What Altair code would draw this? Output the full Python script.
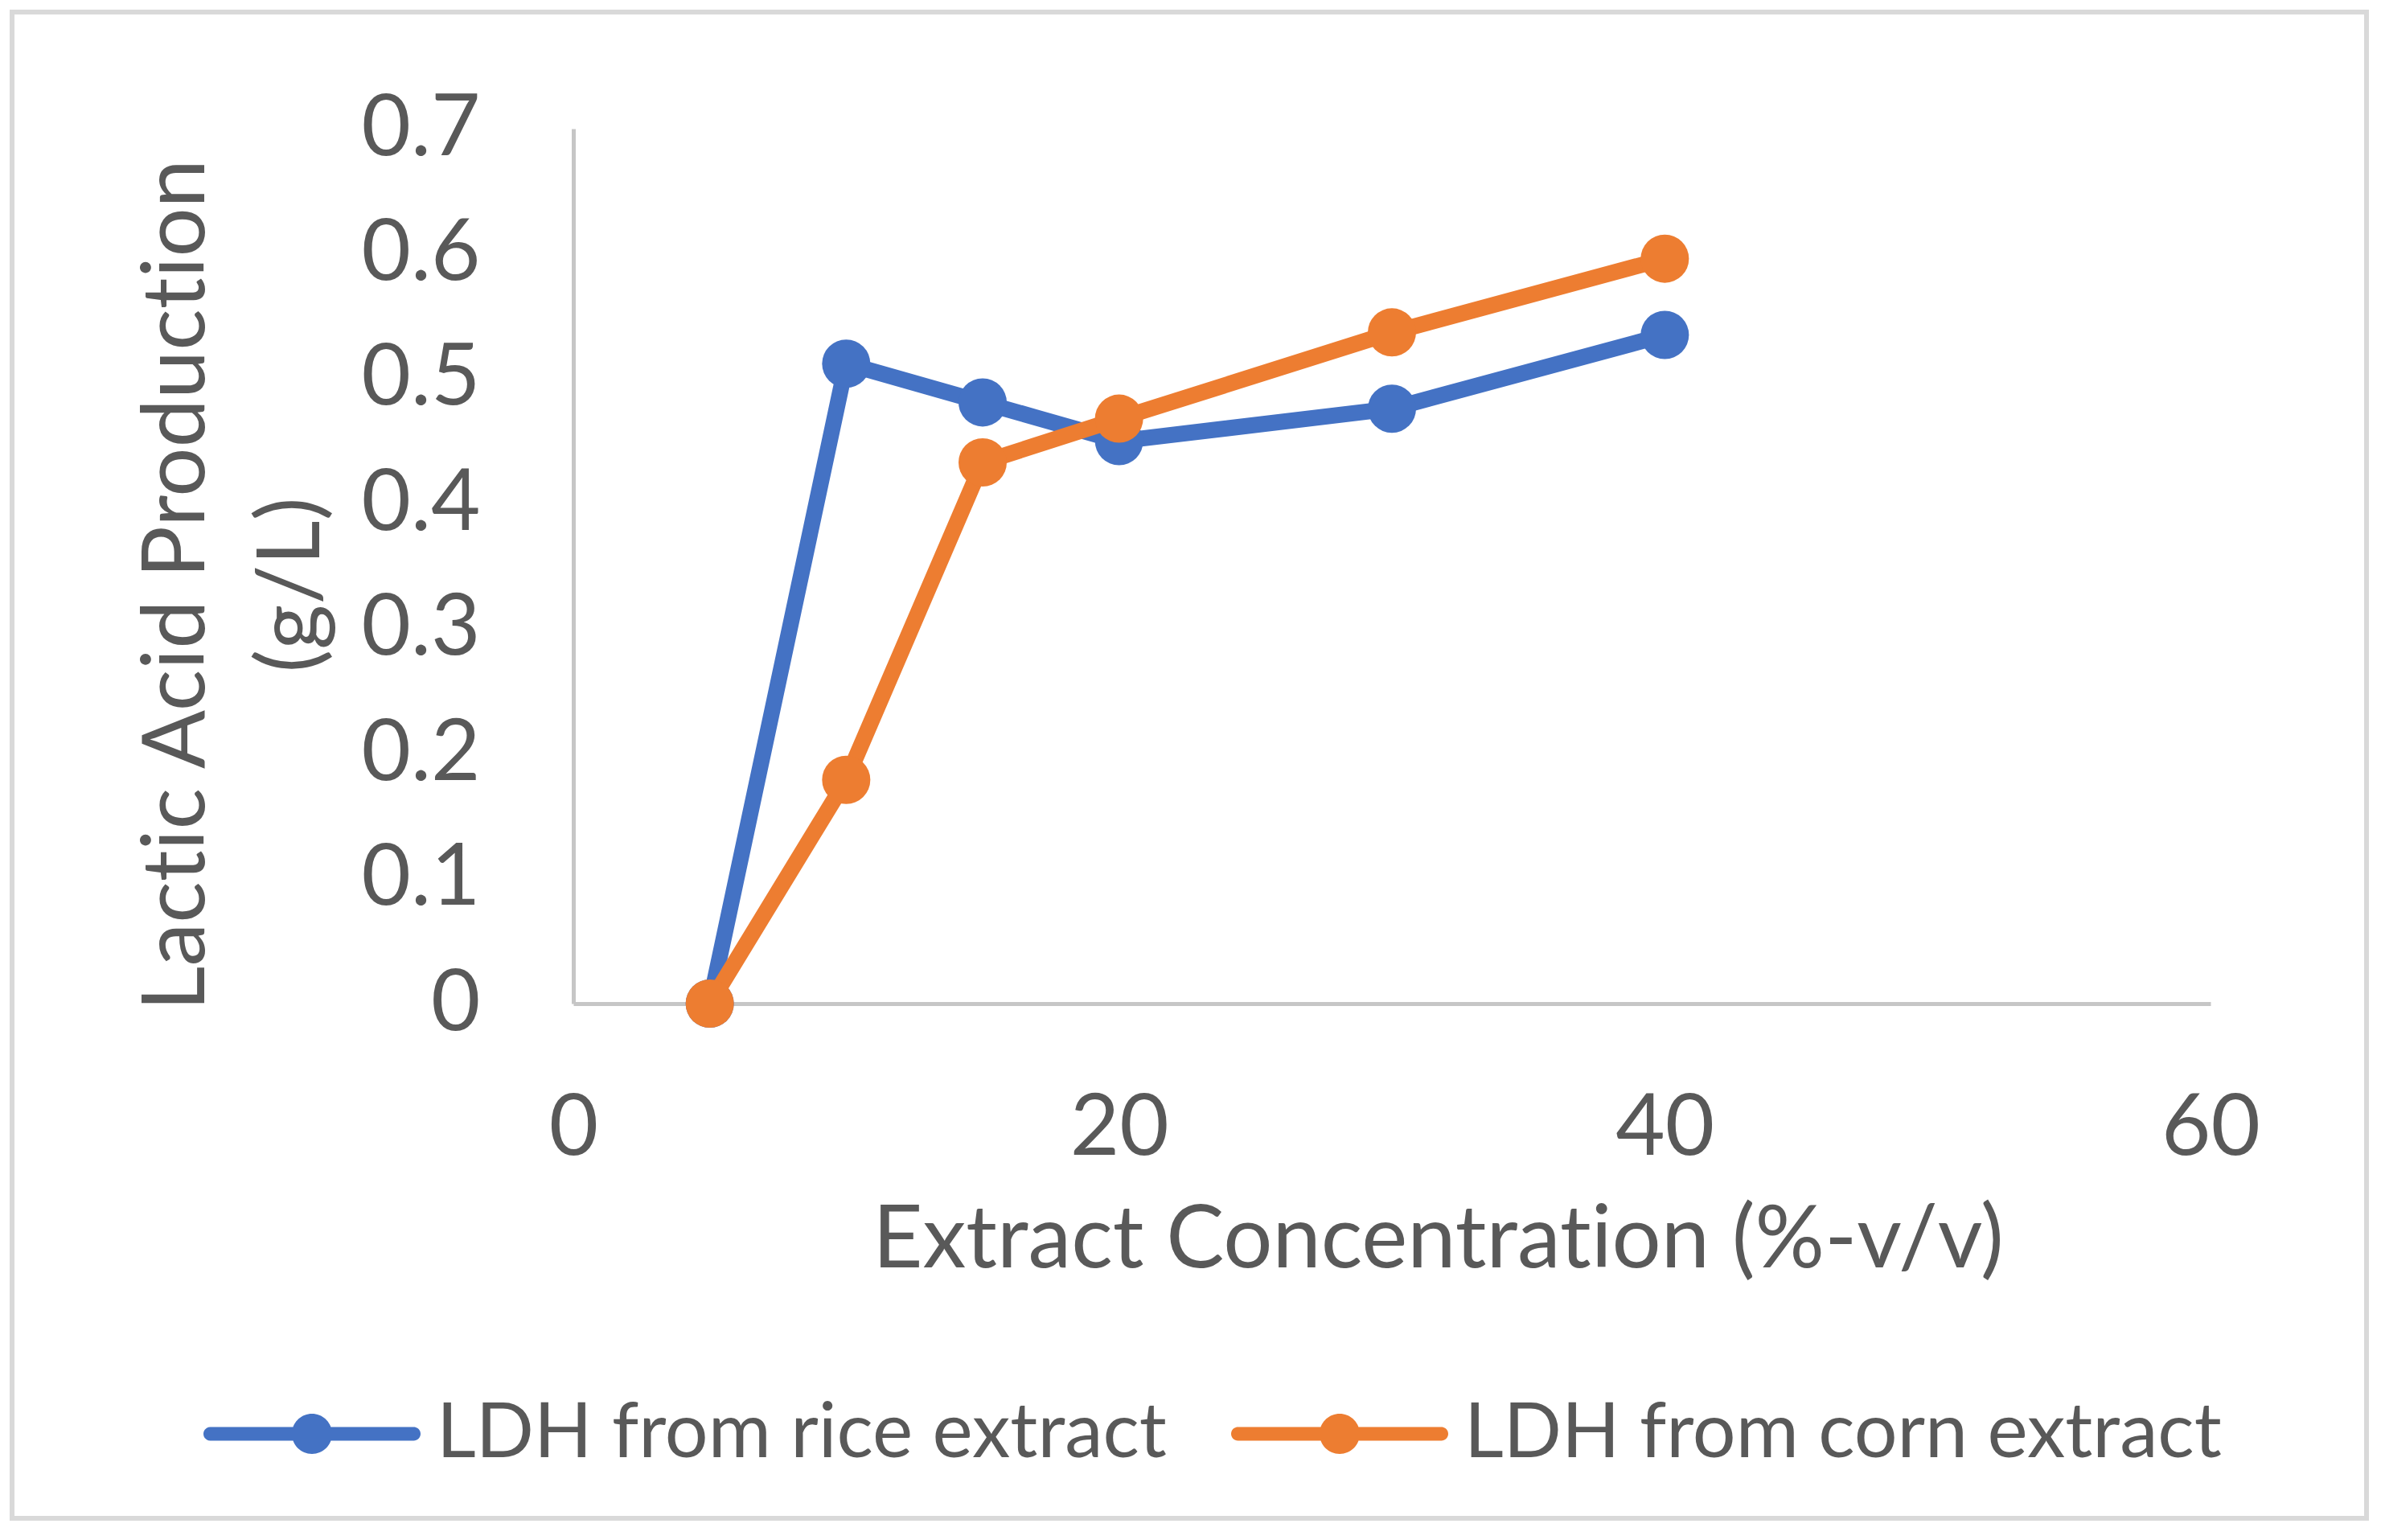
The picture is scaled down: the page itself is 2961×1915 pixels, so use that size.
import altair as alt
import pandas as pd

# ---- data ----
concentration = [5, 10, 15, 20, 30, 40]
rice = [0.0, 0.512, 0.481, 0.450, 0.476, 0.535]
corn = [0.0, 0.179, 0.433, 0.468, 0.537, 0.596]
series_names = ["LDH from rice extract", "LDH from corn extract"]
series_colors = ["#4472C4", "#ED7D31"]
x_ticks = [0, 20, 40, 60]
y_ticks = [0, 0.1, 0.2, 0.3, 0.4, 0.5, 0.6, 0.7]
x_title = "Extract Concentration (%-v/v)"
y_title = ["Lactic Acid Production", "(g/L)"]

rows = []
for name, vals in zip(series_names, [rice, corn]):
    for c, v in zip(concentration, vals):
        rows.append({"conc": c, "value": v, "series": name})
df = pd.DataFrame(rows)

FONT = "Lato"
TXT = "#595959"


def no_lig(s):
    # keep Lato from drawing its "ti" ligature
    return s.replace("ti", "t\u200ci")


W, H = 2036, 1088
PAD = {"left": 713, "top": 160, "right": 2961 - 713 - W, "bottom": 1915 - 160 - H}

legend_path = (
    "M -0.937,-0.063 L -0.15,-0.063 L -0.15,0.063 L -0.937,0.063 A 0.063,0.063 0 0,1 -0.937,-0.063 Z "
    "M 0.185,0 A 0.185,0.185 0 1,1 -0.185,0 A 0.185,0.185 0 1,1 0.185,0 Z "
    "M 0.15,-0.063 L 0.937,-0.063 A 0.063,0.063 0 0,1 0.937,0.063 L 0.15,0.063 Z"
)

x_enc = alt.X(
    "conc:Q",
    scale=alt.Scale(domain=[0, 60], nice=False, zero=False),
    axis=alt.Axis(
        values=x_ticks,
        title=no_lig(x_title),
        grid=False,
        ticks=False,
        tickSize=0,
        labelFlush=False,
        domainColor="#c6c6c6",
        domainWidth=5,
        labelFont=FONT,
        labelFontSize=106,
        labelColor=TXT,
        labelBaseline="alphabetic",
        labelPadding=187,
        titleFont=FONT,
        titleFontSize=108,
        titleFontWeight="normal",
        titleColor=TXT,
        titleBaseline="alphabetic",
        titleAlign="center",
        titleX=1075,
        titleY=327,
    ),
)
y_enc = alt.Y(
    "value:Q",
    scale=alt.Scale(domain=[0, 0.7], nice=False),
    axis=alt.Axis(
        values=y_ticks,
        format="~g",
        title=[no_lig(t) for t in y_title],
        grid=False,
        ticks=False,
        tickSize=0,
        labelFlush=False,
        domainColor="#c6c6c6",
        domainWidth=5,
        labelFont=FONT,
        labelFontSize=106,
        labelColor=TXT,
        labelPadding=116,
        labelBaseline="middle",
        titleFont=FONT,
        titleFontSize=108,
        titleFontWeight="normal",
        titleColor=TXT,
        titleAngle=270,
        titleBaseline="alphabetic",
        titleAlign="center",
        titleLineHeight=143,
        titleX=-460,
        titleY=567,
    ),
)

color_scale = alt.Scale(domain=series_names, range=series_colors)

legend = alt.Legend(
    title=None,
    orient="none",
    direction="horizontal",
    legendX=-460,
    legendY=1488,
    symbolType=legend_path,
    symbolSize=72900,
    symbolStrokeWidth=0,
    labelFont=FONT,
    labelFontSize=95,
    labelColor=TXT,
    labelOffset=20,
    columnPadding=80,
    labelLimit=2000,
    padding=0,
)

base = alt.Chart(df)

layers = []
for name, col in zip(series_names, series_colors):
    sub = base.transform_filter(alt.datum.series == name)
    line = sub.mark_line(
        strokeWidth=20, strokeCap="round", strokeJoin="round", color=col
    ).encode(x=x_enc, y=y_enc)
    pts = sub.mark_point(filled=True, shape="circle", size=3600, opacity=1).encode(
        x=x_enc,
        y=y_enc,
        fill=alt.Fill("series:N", scale=color_scale, legend=legend),
    )
    layers += [line, pts]

border = alt.Chart(alt.Data(values=[{"k": 1}])).mark_rect(
    filled=False, stroke="#d9d9d9", strokeWidth=6
).encode(
    x=alt.value(15 - 713),
    x2=alt.value(2943 - 713),
    y=alt.value(15 - 160),
    y2=alt.value(1888 - 160),
)

chart = alt.layer(border, *layers).properties(
    width=W,
    height=H,
    padding=PAD,
    autosize=alt.AutoSizeParams(type="none"),
    background="white",
).configure_view(stroke=None)

chart.save("out.html", embed_options={"renderer": "svg", "actions": False})
